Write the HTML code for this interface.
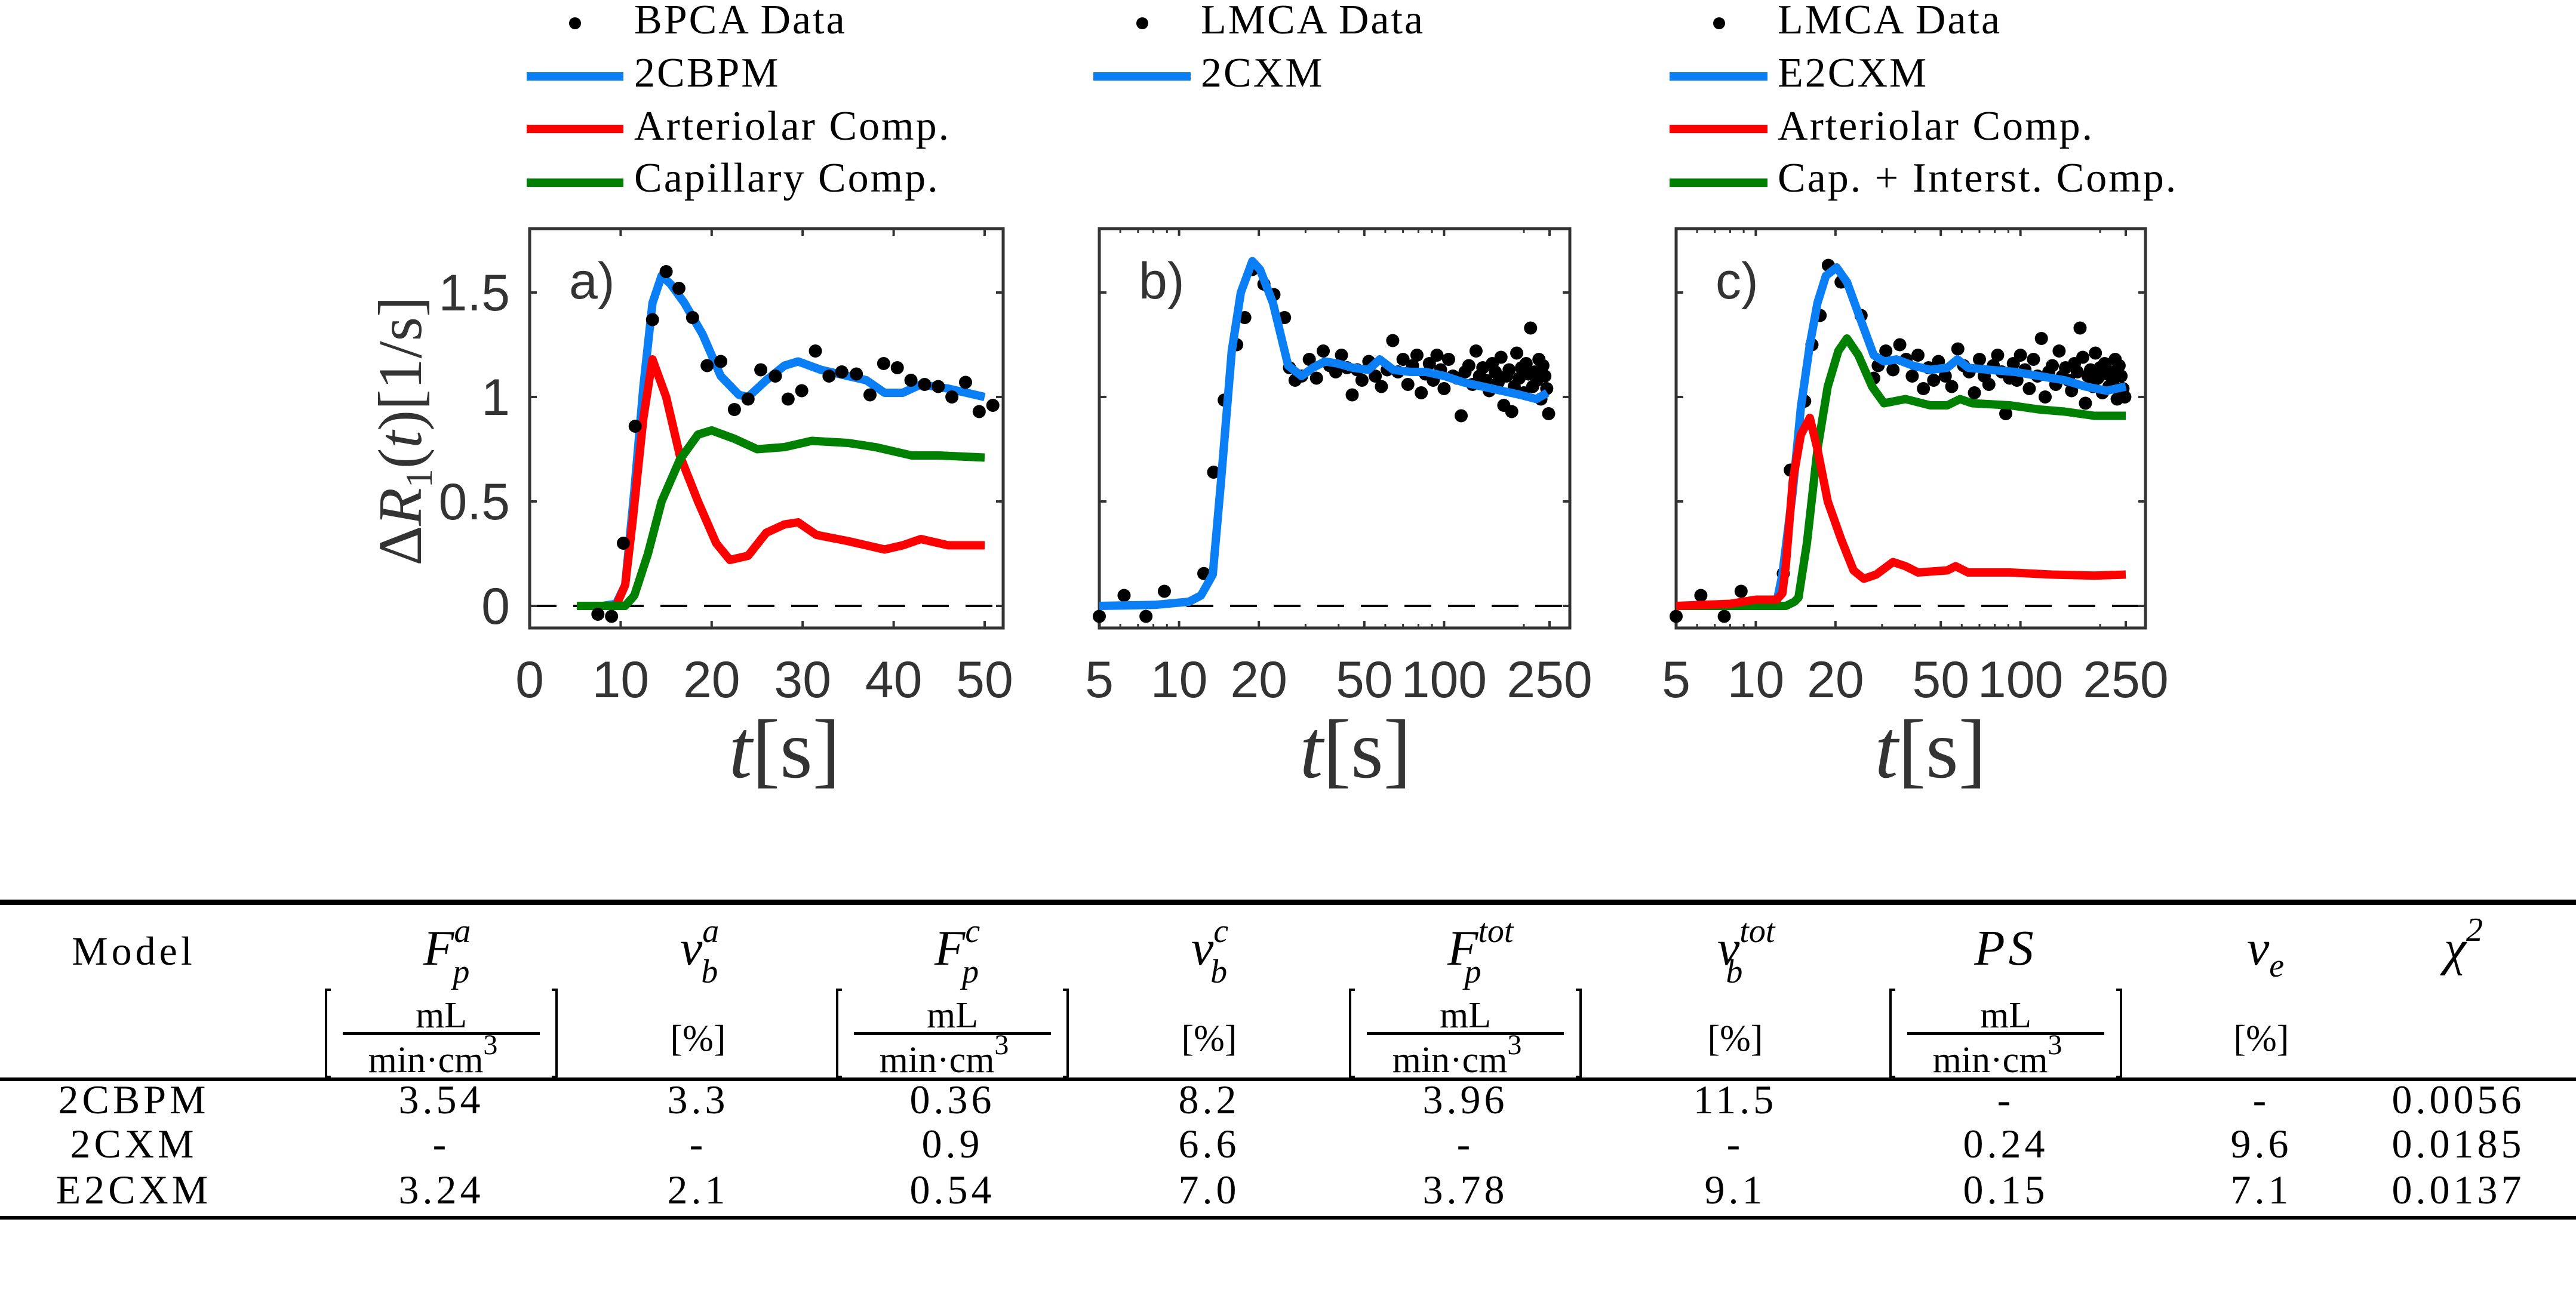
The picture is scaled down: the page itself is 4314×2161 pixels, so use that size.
<!DOCTYPE html>
<html><head><meta charset="utf-8"><style>
html,body{margin:0;padding:0;background:#fff}
svg{display:block}
.tk{font-family:"Liberation Sans",sans-serif;font-size:86px;fill:#333}
.lg{font-family:"Liberation Serif",serif;font-size:70px;fill:#000;letter-spacing:3px}
.tb{font-family:"Liberation Serif",serif;font-size:68px;fill:#000;letter-spacing:6px}
.tm{font-family:"Liberation Serif",serif;font-size:84px;fill:#000;font-style:italic}
.ts{font-family:"Liberation Serif",serif;font-size:56px;fill:#000;font-style:italic}
.tu{font-family:"Liberation Serif",serif;font-size:62px;fill:#000}
</style></head><body>
<svg id="fig" width="4314" height="2161" viewBox="0 0 4314 2161" xmlns="http://www.w3.org/2000/svg">
<g id="plots"></g>
<g id="table"></g>
</svg>
<script>
// ---------- Panel a data (linear time axis) ----------
const aDataT=[7.5,9.0,10.3,11.6,13.5,15.0,16.4,17.9,19.5,21.0,22.5,24.0,25.4,27.0,28.4,29.9,31.4,32.9,34.3,35.9,37.4,38.9,40.4,41.9,43.4,44.9,46.4,47.9,49.4,50.9];
const aDataV=[-0.04,-0.05,0.30,0.86,1.37,1.60,1.52,1.38,1.15,1.17,0.94,0.99,1.13,1.10,0.99,1.03,1.22,1.10,1.12,1.11,1.01,1.16,1.14,1.08,1.06,1.05,1.00,1.07,0.93,0.96];
const aFitT=[5.2,8,9.5,10.5,11.5,12.5,13.5,14.5,15.5,17,19,21,23,24,26,28,29.5,32,35,37,39,41,43,46,50];
const aFitV=[0,0,0.01,0.1,0.55,1.05,1.45,1.58,1.54,1.45,1.3,1.1,1.01,1.0,1.08,1.15,1.17,1.13,1.1,1.08,1.02,1.02,1.06,1.04,1.0];
const aArtT=[5.2,9.5,10.5,11.3,12.5,13.5,15,16.5,18.5,20.5,22,24,26,28,29.5,31.5,35,39,41,43,46,50];
const aArtV=[0,0,0.1,0.4,0.9,1.18,1.0,0.72,0.5,0.3,0.22,0.24,0.35,0.39,0.4,0.34,0.31,0.27,0.29,0.32,0.29,0.29];
const aCapT=[5.2,10.5,11.5,13,14.5,16.5,18.5,20,22.5,25,28,31,35,38,42,45,50];
const aCapV=[0,0,0.05,0.25,0.5,0.7,0.82,0.84,0.8,0.75,0.76,0.79,0.78,0.76,0.72,0.72,0.71];
// ---------- Panel b data (log time axis) ----------
const bDataT=[5,6.2,7.5,8.8,12.4,13.5,14.8,16.5,17.7,18.9,20.9,22.8,25.0,26.1,27.4,29,31,33,35,37,39,41,43,45,47,49,52,55,58,61,64,67,70,73,76,79,82,85,88,91,94,97,100,104,108,112,116,120,124,128,132,136,140,144,148,152,156,160,164,168,172,176,180,184,188,192,196,200,204,208,212,216,220,224,228,232,236,240,244,248];
const bDataV=[-0.05,0.05,-0.05,0.07,0.155,0.64,0.985,1.25,1.38,1.61,1.54,1.49,1.38,1.14,1.08,1.10,1.18,1.09,1.22,1.15,1.12,1.20,1.14,1.01,1.13,1.08,1.17,1.10,1.05,1.13,1.27,1.12,1.18,1.06,1.15,1.20,1.02,1.11,1.16,1.08,1.20,1.13,1.04,1.18,1.10,1.09,0.91,1.12,1.15,1.06,1.22,1.10,1.14,1.08,1.03,1.16,1.12,1.07,1.19,0.96,1.10,1.13,0.93,1.05,1.21,1.09,1.14,1.02,1.16,1.11,1.33,1.05,1.12,1.08,1.18,0.99,1.15,1.10,1.04,0.92];
const bFitT=[5,8.1,10.9,12.1,13.4,14.4,15.8,17.1,18.9,20.2,22.6,25.8,29,32,35.5,39.7,45.2,51.8,57.2,64.3,74.7,85.3,100.5,118.4,139.6,164.6,194,223,245];
const bFitV=[0,0.005,0.02,0.05,0.15,0.6,1.22,1.5,1.65,1.61,1.45,1.15,1.1,1.14,1.17,1.16,1.14,1.13,1.18,1.13,1.12,1.12,1.1,1.07,1.05,1.03,1.01,0.99,1.02];
// ---------- Panel c data (log time axis) ----------
const cDataT=[5,6.2,7.6,8.8,12.7,13.5,15.3,16.3,17.5,18.8,21.0,25.0,27.9,29,31,33,35,37,39,41,43,45,47,49,52,55,58,61,64,67,70,73,76,79,82,85,88,91,94,97,100,104,108,112,116,120,124,128,132,136,140,144,148,152,156,160,164,168,172,176,180,184,188,192,196,200,204,208,212,216,220,224,228,232,236,240,244,248];
const cDataV=[-0.05,0.05,-0.05,0.07,0.155,0.65,0.98,1.25,1.39,1.63,1.55,1.39,1.09,1.15,1.22,1.13,1.25,1.18,1.10,1.20,1.04,1.14,1.08,1.17,1.10,1.05,1.23,1.15,1.12,1.02,1.18,1.10,1.06,1.15,1.20,1.12,0.92,1.09,1.16,1.08,1.20,1.13,1.04,1.18,1.10,1.28,1.00,1.12,1.15,1.06,1.22,1.10,1.14,1.08,1.03,1.16,1.12,1.33,1.19,0.97,1.10,1.13,1.05,1.21,1.09,1.14,1.02,1.16,1.11,1.05,1.12,1.08,1.18,0.99,1.15,1.10,1.04,1.00];
const cFitT=[5,10,12,12.6,13.8,14.8,16,17.1,18.4,20.2,22.1,24.4,27.9,30.5,34,39.3,45.6,52.9,57.8,63.4,76.3,95.3,118,147,176,212,250];
const cFitV=[0,0,0.02,0.15,0.55,0.95,1.25,1.45,1.58,1.62,1.55,1.4,1.2,1.17,1.18,1.15,1.13,1.14,1.18,1.14,1.13,1.12,1.1,1.08,1.05,1.03,1.05];
const cArtT=[5,8,10,12,12.6,13,13.8,14.8,16,17.1,18.7,21,23.4,25.6,28.5,33,36.8,41,52.9,56.9,63.4,91.5,131,190,250];
const cArtV=[0,0.01,0.03,0.03,0.06,0.2,0.6,0.82,0.9,0.75,0.5,0.32,0.17,0.13,0.15,0.21,0.19,0.16,0.17,0.19,0.16,0.16,0.15,0.145,0.15];
const cCapT=[5,13,14,14.5,15.6,17.1,18.7,20.5,22.1,24.4,27.5,30.5,36.8,45.6,52.9,59.1,65.7,91.5,118,147,190,250];
const cCapV=[0,0,0.02,0.04,0.3,0.75,1.05,1.22,1.28,1.2,1.05,0.97,0.99,0.96,0.96,0.99,0.97,0.96,0.94,0.93,0.91,0.91];
// ---------- Tick labels ----------
const yTicks=[0,0.5,1,1.5];
const yTickLabels=["0","0.5","1","1.5"];
const linTicks=[0,10,20,30,40,50];
const logTicks=[5,10,20,50,100,250];
// ---------- Table ----------
const tableModels=["2CBPM","2CXM","E2CXM"];
const colFpa=["3.54","-","3.24"];
const colVba=["3.3","-","2.1"];
const colFpc=["0.36","0.9","0.54"];
const colVbc=["8.2","6.6","7.0"];
const colFptot=["3.96","-","3.78"];
const colVbtot=["11.5","-","9.1"];
const colPS=["-","0.24","0.15"];
const colVe=["-","9.6","7.1"];
const colChi=["0.0056","0.0185","0.0137"];

const NS="http://www.w3.org/2000/svg";
function mk(tag,attrs,parent){const e=document.createElementNS(NS,tag);for(const k in attrs)e.setAttribute(k,attrs[k]);parent.appendChild(e);return e;}
const plots=document.getElementById('plots');
const BLUE="#0a7ff5",RED="#ff0000",GREEN="#008000";
const axTop=383,axBot=1052,y0=1015,yPer=350;
function Y(v){return y0-v*yPer;}

function panel(name,L,R,xf,ticks,minorTicks,label){
  const g=mk('g',{},plots);
  
  
  const z=mk('line',{x1:L,x2:R,y1:Y(0),y2:Y(0),stroke:'#000','stroke-width':4,'stroke-dasharray':'45,28'},g);
  
  
  yTicks.forEach(v=>{mk('line',{x1:L,x2:L+12,y1:Y(v),y2:Y(v),stroke:'#333','stroke-width':4},g);mk('line',{x1:R,x2:R-12,y1:Y(v),y2:Y(v),stroke:'#333','stroke-width':4},g);});
  ticks.forEach(t=>{const x=xf(t);mk('line',{x1:x,x2:x,y1:axBot,y2:axBot-12,stroke:'#333','stroke-width':4},g);mk('line',{x1:x,x2:x,y1:axTop,y2:axTop+12,stroke:'#333','stroke-width':4},g);
    const tx=mk('text',{x:x,y:1168,'text-anchor':'middle',class:'tk'},g);tx.textContent=String(t);
    
    });
  minorTicks.forEach(t=>{const x=xf(t);mk('line',{x1:x,x2:x,y1:axBot,y2:axBot-7,stroke:'#333','stroke-width':3},g);mk('line',{x1:x,x2:x,y1:axTop,y2:axTop+7,stroke:'#333','stroke-width':3},g);});
  const box=mk('rect',{x:L,y:axTop,width:R-L,height:axBot-axTop,fill:'none',stroke:'#333','stroke-width':5},g);
  
  
  const pl=mk('text',{x:L+66,y:500,class:'tk'},g);pl.textContent=label;
  
  
  return g;
}
function line(g,xf,T,V,color,name){
  const d=T.map((t,i)=>(i?'L':'M')+xf(t).toFixed(1)+','+Y(V[i]).toFixed(1)).join(' ');
  const p=mk('path',{d:d,fill:'none',stroke:color,'stroke-width':14,'stroke-linejoin':'round','stroke-linecap':'butt'},g);
  
  
}
function dots(g,xf,T,V){
  const gg=mk('g',{},g);
  
  
  T.forEach((t,i)=>{const c=mk('circle',{cx:xf(t),cy:Y(V[i]),r:11,fill:'#000'},gg);
    
    });
}
function xlabel(g,cx){
  const t=mk('text',{x:cx,y:1302,'text-anchor':'middle','font-family':'Liberation Serif, serif','font-size':140,fill:'#333'},g);
  t.innerHTML='<tspan font-style="italic">t</tspan>[s]';
  
  
}
function legend(items,lx1,lx2,tx,dotx){
  const ys=[56,145,234,321];const ly=[39,128,216,306];
  items.forEach((it,i)=>{
    const g=mk('g',{},plots);
    
    
    if(it[1]==='dot')mk('circle',{cx:dotx,cy:ly[i],r:10,fill:'#000'},g);
    else mk('line',{x1:lx1,x2:lx2,y1:ly[i],y2:ly[i],stroke:it[1],'stroke-width':14},g);
    const t=mk('text',{x:tx,y:ys[i],class:'lg'},g);t.textContent=it[0];
  });
}
// Panel a
const aL=887,aR=1680;const xa=t=>aL+t*15.24;
const ga=panel('panel-a',aL,aR,xa,linTicks,[],'a)');
line(ga,xa,aFitT,aFitV,BLUE,'fit-2cbpm');
line(ga,xa,aArtT,aArtV,RED,'arteriolar-comp');
line(ga,xa,aCapT,aCapV,GREEN,'capillary-comp');
dots(ga,xa,aDataT,aDataV);
xlabel(ga,1314);
yTicks.forEach((v,i)=>{const t=mk('text',{x:854,y:Y(v)+30,'text-anchor':'end',class:'tk'},ga);t.textContent=yTickLabels[i];
  
  });
const yl=mk('text',{x:0,y:0,'text-anchor':'middle','font-family':'Liberation Serif, serif','font-size':104,fill:'#333',transform:'translate(705,722) rotate(-90)'},ga);
yl.innerHTML='Δ<tspan font-style="italic">R</tspan><tspan font-size="64" dy="18">1</tspan><tspan dy="-18">(</tspan><tspan font-style="italic">t</tspan>)[1/s]';


legend([['BPCA Data','dot'],['2CBPM',BLUE],['Arteriolar Comp.',RED],['Capillary Comp.',GREEN]],882,1044,1062,963);
const minors=[6,7,8,9,30,40,60,70,80,90,200];
// Panel b
const bL=1841,bR=2629;const xb=t=>bL+Math.log10(t/5)*443.8;
const gb=panel('panel-b',bL,bR,xb,logTicks,minors,'b)');
dots(gb,xb,bDataT,bDataV);
line(gb,xb,bFitT,bFitV,BLUE,'fit-2cxm');
xlabel(gb,2270);
legend([['LMCA Data','dot'],['2CXM',BLUE]],1831,1994,2011,1913);
// Panel c
const cL=2807,cR=3593;const xc=t=>cL+Math.log10(t/5)*443.2;
const gc=panel('panel-c',cL,cR,xc,logTicks,minors,'c)');
dots(gc,xc,cDataT,cDataV);
line(gc,xc,cFitT,cFitV,BLUE,'fit-e2cxm');
line(gc,xc,cCapT,cCapV,GREEN,'cap-interst-comp');
line(gc,xc,cArtT,cArtV,RED,'arteriolar-comp');
xlabel(gc,3233);
legend([['LMCA Data','dot'],['E2CXM',BLUE],['Arteriolar Comp.',RED],['Cap. + Interst. Comp.',GREEN]],2796,2960,2977,2879);

// ---------- Table ----------
const tg=document.getElementById('table');
function rule(y,w,n){const r=mk('rect',{x:0,y:y,width:4314,height:w,fill:'#000'},tg);}
rule(1507,9,'top-rule');rule(1805,6,'mid-rule');rule(2037,6,'bottom-rule');
const cx=[224,739,1169,1595,2025,2454,2906,3359,3787,4117];
function txt(x,y,s,cls,name){const t=mk('text',{x:x,y:y,'text-anchor':'middle',class:cls},tg);t.innerHTML=s;return t;}
txt(cx[0],1616,'Model','tb','header-model');
const heads=[['F','p','a'],['v','b','a'],['F','p','c'],['v','b','c'],['F','p','tot'],['v','b','tot']];
heads.forEach((h,i)=>{
  const t=mk('text',{x:cx[i+1]-30,y:1616,class:'tm'},tg);
  t.innerHTML=h[0]+'<tspan class="ts" dy="-38">'+h[2]+'</tspan><tspan class="ts" dx="'+(-h[2].length*26-4)+'" dy="68">'+h[1]+'</tspan>';
  
  
});
txt(cx[7],1616,'<tspan font-style="italic" font-size="84">PS</tspan>','tb','header-ps');
const ve=mk('text',{x:cx[8]-24,y:1616,class:'tm'},tg);ve.innerHTML='v<tspan class="ts" dy="20">e</tspan>';


const ch=mk('text',{x:cx[9]-24,y:1616,class:'tm'},tg);ch.innerHTML='χ<tspan class="ts" font-style="normal" dy="-40">2</tspan>';


[1,3,5,7].forEach(i=>{
  const x=cx[i];const g=mk('g',{},tg);
  
  
  mk('path',{d:`M${x-185},1658 h-8 v146 h8 M${x+185},1658 h8 v146 h-8`,fill:'none',stroke:'#000','stroke-width':4},g);
  mk('rect',{x:x-165,y:1729,width:330,height:5,fill:'#000'},g);
  const a=mk('text',{x:x,y:1721,'text-anchor':'middle',class:'tu'},g);a.textContent='mL';
  const b=mk('text',{x:x-14,y:1796,'text-anchor':'middle',class:'tu'},g);b.innerHTML='min·cm<tspan font-size="48" dy="-30">3</tspan>';
});
[2,4,6,8].forEach(i=>{txt(cx[i],1760,'[%]','tu','unit-percent');});
const cols=[tableModels,colFpa,colVba,colFpc,colVbc,colFptot,colVbtot,colPS,colVe,colChi];
const rowY=[1865,1939,2016];
cols.forEach((col,ci)=>col.forEach((v,ri)=>txt(cx[ci],rowY[ri],v,'tb','table-cell')));
</script>
</body></html>
